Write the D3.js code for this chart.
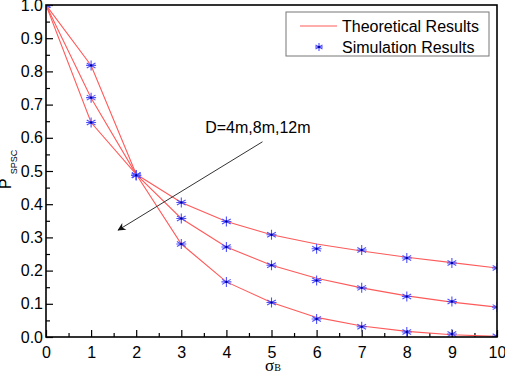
<!DOCTYPE html>
<html>
<head>
<meta charset="utf-8">
<script src="https://cdn.jsdelivr.net/npm/d3@7"></script>
<style>
  body { margin: 0; background: #fff; }
  svg { display: block; }
</style>
</head>
<body>
<div id="chart"></div>
<script>
// sigma_B values on the x axis
const sigmaB = [0, 1, 2, 3, 4, 5, 6, 7, 8, 9, 10];

// theoretical curves, D = 4m, 8m, 12m
const theoryD4  = [1, 0.646, 0.49, 0.405, 0.348, 0.308, 0.280, 0.259, 0.240, 0.224, 0.208];
const theoryD8  = [1, 0.720, 0.49, 0.357, 0.271, 0.216, 0.177, 0.148, 0.124, 0.105, 0.090];
const theoryD12 = [1, 0.818, 0.49, 0.280, 0.166, 0.104, 0.059, 0.033, 0.017, 0.007, 0.002];

// simulation points
const simD4  = [1, 0.646, 0.487, 0.405, 0.348, 0.308, 0.266, 0.262, 0.238, 0.223, 0.208];
const simD8  = [1, 0.721, 0.487, 0.357, 0.271, 0.216, 0.170, 0.148, 0.122, 0.107, 0.090];
const simD12 = [1, 0.818, 0.487, 0.280, 0.166, 0.104, 0.054, 0.031, 0.015, 0.009, 0.002];

const xTicks = [0, 1, 2, 3, 4, 5, 6, 7, 8, 9, 10];
const yTicks = [0, 0.1, 0.2, 0.3, 0.4, 0.5, 0.6, 0.7, 0.8, 0.9, 1.0];
const legendLabels = ["Theoretical Results", "Simulation Results"];
const noteText = "D=4m,8m,12m";

const theory = [theoryD4, theoryD8, theoryD12];
const sims = [simD4, simD8, simD12];

const font = "Arial, 'Liberation Sans', sans-serif";
const lineColor = "#ff5a5a";
const markColor = "#5050ff";

// dimensions
const margin = {top: 5, right: 8, bottom: 38, left: 46},
    width = 505 - margin.left - margin.right,
    height = 375 - margin.top - margin.bottom;

const root = d3.select("#chart")
  .append("svg")
    .attr("width", 505)
    .attr("height", 375);

const svg = root.append("g")
    .attr("transform", `translate(${margin.left},${margin.top})`);

const x = d3.scaleLinear().domain([0, 10]).range([0, width]);
const y = d3.scaleLinear().domain([0, 1]).range([height, 0]);

// clip so markers on the frame get cut like the original
root.append("defs").append("clipPath")
    .attr("id", "plotClip")
  .append("rect")
    .attr("width", width)
    .attr("height", height);

root.select("defs").append("marker")
    .attr("id", "arrowHead")
    .attr("viewBox", "0 0 10 10")
    .attr("refX", 9)
    .attr("refY", 5)
    .attr("markerWidth", 12)
    .attr("markerHeight", 8)
    .attr("markerUnits", "userSpaceOnUse")
    .attr("orient", "auto")
  .append("path")
    .attr("d", "M0,0 L10,5 L0,10 L3,5 Z")
    .attr("fill", "#111");

// x axis, ticks pointing inward
svg.append("g")
    .attr("transform", `translate(0,${height})`)
    .call(d3.axisBottom(x).tickValues(xTicks).tickSize(-7).tickPadding(10).tickFormat(d3.format("d")));
svg.append("g")
    .attr("transform", `translate(0,${height})`)
    .call(d3.axisBottom(x).tickValues(d3.range(0.5, 10, 1)).tickSize(-4).tickFormat(""));

// y axis
svg.append("g")
    .call(d3.axisLeft(y).tickValues(yTicks).tickSize(-7).tickPadding(3).tickFormat(d3.format(".1f")));
svg.append("g")
    .call(d3.axisLeft(y).tickValues(d3.range(0.05, 1, 0.1)).tickSize(-4).tickFormat(""));

svg.selectAll(".tick line").attr("stroke", "#000").attr("stroke-width", 1.2);
svg.selectAll(".domain").remove();
svg.selectAll(".tick text")
    .style("font-family", font)
    .style("font-size", "16px")
    .attr("fill", "#000");

// theoretical lines
const line = d3.line()
    .x((d, i) => x(sigmaB[i]))
    .y(d => y(d));

const plot = svg.append("g").attr("clip-path", "url(#plotClip)");

plot.selectAll(".theory")
  .data(theory)
  .join("path")
    .attr("class", "theory")
    .attr("d", line)
    .attr("fill", "none")
    .attr("stroke", lineColor)
    .attr("stroke-width", 1.1);

// star marker
const star = (g, s) => {
  g.append("path")
    .attr("d", `M0,${-s}V${s}M${-s*0.87},${-s*0.5}L${s*0.87},${s*0.5}M${-s*0.87},${s*0.5}L${s*0.87},${-s*0.5}M${-s},0H${s}`)
    .attr("stroke", markColor)
    .attr("stroke-width", 1.1)
    .attr("fill", "none");
  g.append("circle")
    .attr("r", 1.2)
    .attr("fill", "#0000a0");
};

sims.forEach(series => {
  plot.selectAll(null)
    .data(series)
    .join("g")
      .attr("transform", (d, i) => `translate(${x(sigmaB[i])},${y(d)})`)
      .each(function() { star(d3.select(this), 5); });
});

// frame
svg.append("rect")
    .attr("width", width)
    .attr("height", height)
    .attr("fill", "none")
    .attr("stroke", "#000")
    .attr("stroke-width", 1.6);

// annotation arrow and text
svg.append("line")
    .attr("x1", x(4.8))
    .attr("y1", y(0.588))
    .attr("x2", x(1.6))
    .attr("y2", y(0.322))
    .attr("stroke", "#333")
    .attr("stroke-width", 1)
    .attr("marker-end", "url(#arrowHead)");

svg.append("text")
    .attr("x", x(3.53))
    .attr("y", y(0.613))
    .style("font-family", font)
    .style("font-size", "16px")
    .text(noteText);

// legend
const legend = svg.append("g")
    .attr("transform", `translate(${286 - margin.left},${12 - margin.top})`);

legend.append("rect")
    .attr("width", 203)
    .attr("height", 44)
    .attr("fill", "#fff")
    .attr("stroke", "#777")
    .attr("stroke-width", 1);

legend.append("line")
    .attr("x1", 14).attr("x2", 51)
    .attr("y1", 14).attr("y2", 14)
    .attr("stroke", lineColor)
    .attr("stroke-width", 1.1);

legend.append("g")
    .attr("transform", "translate(33,35)")
    .each(function() { star(d3.select(this), 4); });

legend.selectAll(".legText")
  .data(legendLabels)
  .join("text")
    .attr("class", "legText")
    .attr("x", 56)
    .attr("y", (d, i) => 20 + i * 21)
    .style("font-family", font)
    .style("font-size", "16px")
    .text(d => d);

// axis titles
root.append("text")
    .attr("transform", "translate(265,371)")
    .style("font-family", "'Liberation Serif', 'DejaVu Serif', serif")
    .style("font-size", "17px")
    .text("σ")
  .append("tspan")
    .style("font-size", "10px")
    .text("B");

root.append("text")
    .attr("transform", "translate(11,189) rotate(-90)")
    .style("font-family", font)
    .style("font-size", "16px")
    .text("P")
  .append("tspan")
    .attr("dx", 4)
    .attr("dy", 6)
    .style("font-size", "9px")
    .text("SPSC");
</script>
</body>
</html>
